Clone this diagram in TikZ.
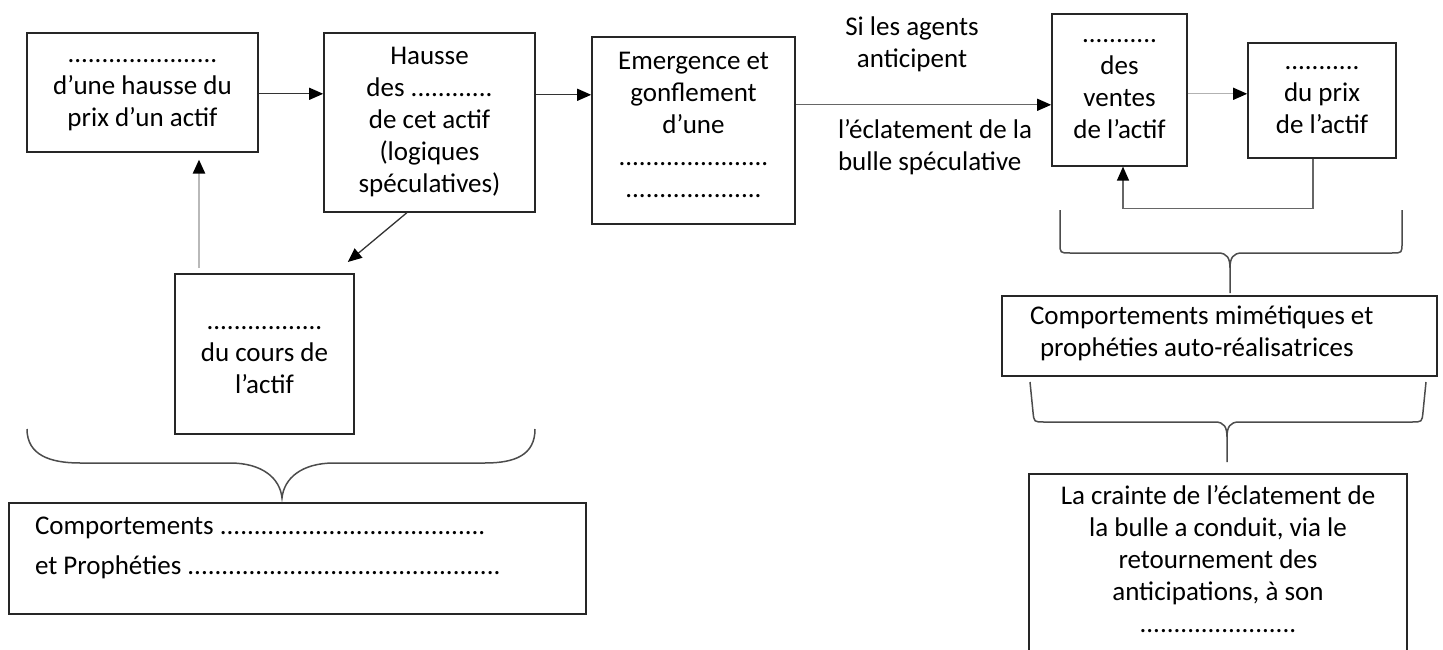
\documentclass[tikz,border=0pt]{standalone}
\usepackage{fontspec}
\setmainfont{Carlito}
\usetikzlibrary{arrows.meta, positioning}

\begin{document}
\begin{tikzpicture}[
  x=1pt, y=-1pt,
  box/.style={rectangle, draw=black!85, line width=1.6pt, align=flush center,
              inner sep=0pt, anchor=north, font=\fontsize{27}{32}\selectfont},
  lbl/.style={align=flush center, inner sep=4pt, text=black,
              font=\fontsize{27}{32}\selectfont},
  arr/.style={-{Triangle[length=14pt, width=12pt, black]}, line width=1.3pt, black!80},
  garr/.style={arr, gray!55, line width=2.4pt},
  brace/.style={line width=1.5pt, black!70},
]
  \useasboundingbox (0,0) rectangle (1443,650);

  \node[box, text width=231pt, text height=30pt, text depth=89pt] (hausse) at (142.5, 32)
    {......................\\d’une hausse du\\prix d’un actif};
  \node[box, text width=211pt, text height=32pt, text depth=147pt] (achats) at (429.5, 32)
    {Hausse\\des ............\\de cet actif\\(logiques\\spéculatives)};
  \node[box, text width=203pt, text height=33pt, text depth=154pt] (bulle) at (693.5, 36)
    {Emergence et\\gonflement\\d’une\\......................\\....................};
  \node[box, text width=135pt, text height=29pt, text depth=123pt] (ventes) at (1119.5, 13)
    {...........\\des\\ventes\\de l’actif};
  \node[box, text width=148pt, text height=27pt, text depth=88pt] (prix) at (1322, 42)
    {...........\\du prix\\de l’actif};
  \node[box, text width=179pt, text height=56pt, text depth=104pt] (cours) at (264.5, 273)
    {.................\\du cours de\\l’actif};
  \node[box, text width=379pt, inner xsep=28pt, text height=29pt, text depth=51pt,
        align=flush left] (mimet) at (1219.5, 295)
    {Comportements mimétiques et\\\hspace*{10pt}prophéties auto-réalisatrices};
  \node[box, text width=378pt, text height=31pt, text depth=200pt] (crainte) at (1218, 473)
    {La crainte de l’éclatement de\\la bulle a conduit, via le\\retournement des\\anticipations, à son\\.......................};
  \node[box, text width=525pt, inner xsep=26pt, text height=32pt, text depth=79pt,
        align=flush left] (comport) at (297.5, 502)
    {Comportements .......................................\\[8pt]et Prophéties ..............................................};

  \draw[arr] ([yshift=-1.5pt]hausse.east) -- ([yshift=28.5pt]achats.west);
  \draw[arr] ([yshift=27.5pt]achats.east) -- ([yshift=35.5pt]bulle.west);
  \draw[arr, black!60] ([yshift=25.5pt]bulle.east) -- ([yshift=-15pt]ventes.west)
    node[lbl, pos=0.455, above=28pt] {Si les agents\\anticipent}
    node[lbl, align=flush left, pos=0.545, below=10pt] {l’éclatement de la\\bulle spéculative};
  \draw[arr, gray!60] ([yshift=-4pt]ventes.east) -- ([yshift=6.5pt]prix.west);
  \draw[arr, black!60] ([xshift=-9pt]prix.south) -- ++(0,50) -| ([xshift=3.5pt]ventes.south);
  \draw[arr] ([xshift=-22.5pt]achats.south) -- ([shift={(-7pt,11pt)}]cours.north east);
  \draw[garr, shorten <=5pt, shorten >=7pt] ([xshift=-65.5pt]cours.north) -- ([xshift=56.5pt]hausse.south);

  \draw[brace] (27,429) .. controls (27,455) and (50,463) .. (80,463) -- (230,463)
    .. controls (262,463) and (280,478) .. (282,498)
    .. controls (284,478) and (302,463) .. (334,463) -- (485,463)
    .. controls (515,463) and (535,455) .. (535,429);
  \draw[brace] (1060,210) -- (1060,243) .. controls (1060,253) .. (1070,253) -- (1218,253)
    .. controls (1227,253) and (1230,258) .. (1230,268) -- (1230,293)
    (1230,268) .. controls (1230,258) and (1233,253) .. (1242,253) -- (1392,253)
    .. controls (1402,253) .. (1402,243) -- (1402,210);
  \draw[brace] (1030,382) -- (1033,412) .. controls (1034,422) .. (1044,422) -- (1215,422)
    .. controls (1224,422) and (1227,427) .. (1227,437) -- (1227,462)
    (1227,437) .. controls (1227,427) and (1230,422) .. (1239,422) -- (1412,422)
    .. controls (1422,422) .. (1423,412) -- (1426,382);
\end{tikzpicture}
\end{document}
